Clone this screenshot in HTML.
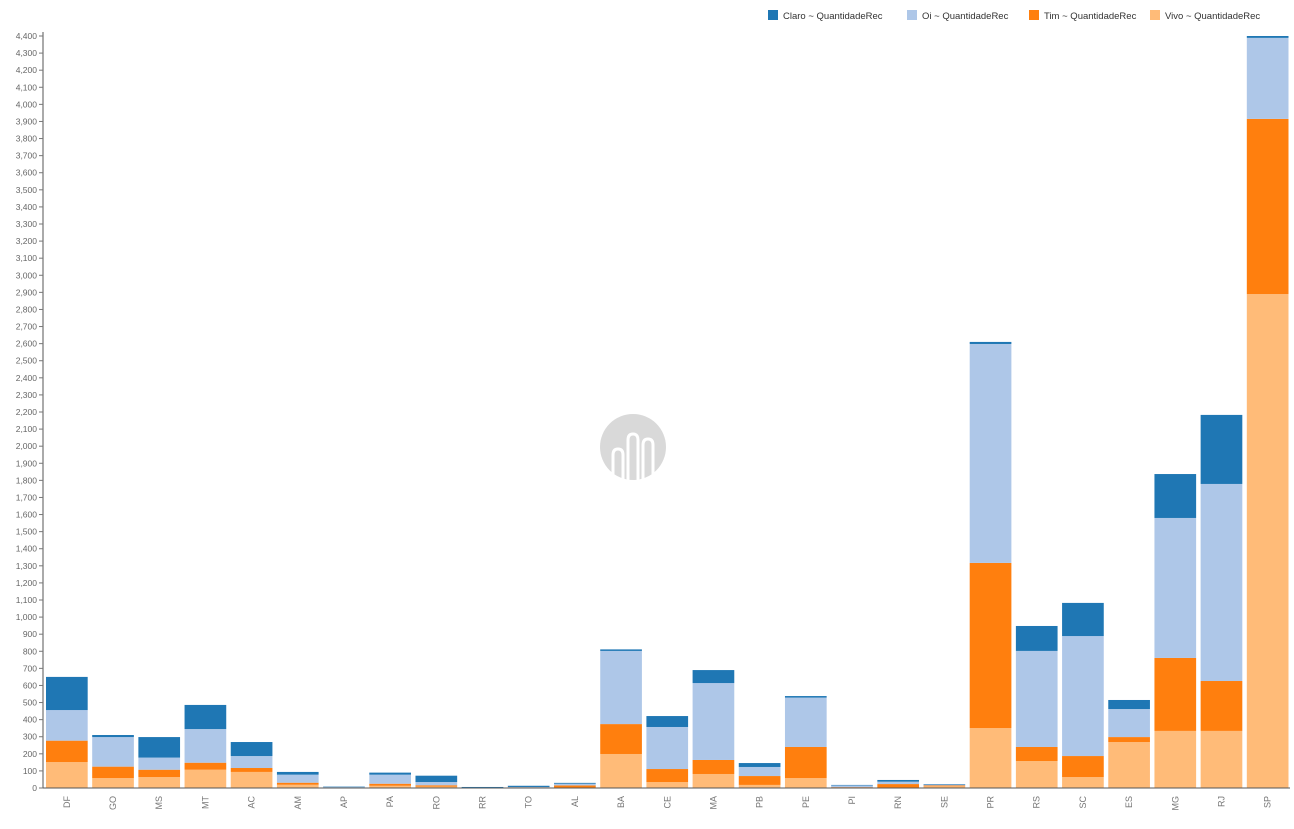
<!DOCTYPE html>
<html><head><meta charset="utf-8"><style>
body{margin:0;background:#fff;font-family:"Liberation Sans",Arial,sans-serif;}
svg text{font-family:"Liberation Sans",Arial,sans-serif;}
</style></head><body>
<svg id="chart" width="1294" height="824" xmlns="http://www.w3.org/2000/svg">
<g>
<circle cx="633" cy="447" r="33" fill="#d9d9d9"/>
<path d="M613 480 V455 q0-6 5-6 q5 0 5 6 V480 M628 480 V440 q0-6 5-6 q5 0 5 6 V480 M643 480 V445 q0-6 5-6 q5 0 5 6 V480" stroke="#fff" stroke-width="3" fill="none"/>
</g>
<g id="yaxis"></g>
<g id="bars"></g>
<g id="xaxis"></g>
<g id="legend"></g>
</svg>
<script>
const categories=["DF","GO","MS","MT","AC","AM","AP","PA","RO","RR","TO","AL","BA","CE","MA","PB","PE","PI","RN","SE","PR","RS","SC","ES","MG","RJ","SP"];
const vivo=[152,58,64,107,94,19,2,13,8,1,2,3,199,35,82,18,58,3,3,10,351,158,64,269,334,334,2890];
const tim=[125,67,43,41,23,12,1,12,8,1,2,12,175,76,82,52,182,2,20,5,966,82,123,29,427,292,1025];
const oi=[179,173,71,197,70,47,2,53,19,1,2,10,428,246,450,53,289,10,14,5,1281,562,702,164,819,1153,474];
const claro=[194,12,120,141,82,16,3,12,37,3,7,5,9,64,76,23,9,3,10,3,12,146,194,53,257,404,11];
const seriesNames=["Vivo ~ QuantidadeRec","Tim ~ QuantidadeRec","Oi ~ QuantidadeRec","Claro ~ QuantidadeRec"];
const yTicks=[];for(let v=0;v<=4400;v+=100)yTicks.push(v);

const NS="http://www.w3.org/2000/svg";
const X0=43,X1=1290,Y0=788,Y1=36,YMAX=4400;
const band=(X1-X0)/categories.length;
function y(v){return Y0-(v/YMAX)*(Y0-Y1);}
function x(i){return X0+i*band;}
function mk(t,a,p){const e=document.createElementNS(NS,t);for(const k in a)e.setAttribute(k,a[k]);p.appendChild(e);return e;}
const colors=["#ffbb78","#ff7f0e","#aec7e8","#1f77b4"];
const series=[vivo,tim,oi,claro];
const ya=document.getElementById('yaxis');
mk('line',{x1:X0,x2:X0,y1:Y1-4,y2:Y0,stroke:'#555','stroke-width':1},ya);
yTicks.forEach(v=>{
 const t=mk('line',{x1:X0-4,x2:X0,y1:y(v),y2:y(v),stroke:'#777'},ya);
 
 
 const l=mk('text',{x:X0-6,y:y(v)+3,'text-anchor':'end','font-size':8.5,fill:'#666'},ya);
 l.textContent=v.toLocaleString('en-US');
 
 
});
const bg=document.getElementById('bars');
categories.forEach((c,i)=>{
 let acc=0;
 series.forEach((s,k)=>{
  const v=s[i];
  const r=mk('rect',{x:x(i)+3,y:y(acc+v),width:band-4.5,height:y(acc)-y(acc+v),fill:colors[k]},bg);
  
  
  acc+=v;
 });
});
const xa=document.getElementById('xaxis');
mk('line',{x1:X0,x2:X1,y1:Y0,y2:Y0,stroke:'#555'},xa);
categories.forEach((c,i)=>{
 const cx=x(i)+3+(band-4.5)/2;
 const t=mk('text',{x:0,y:0,'text-anchor':'end','font-size':9,fill:'#777',transform:`translate(${cx+3},${Y0+8}) rotate(-90)`},xa);
 t.textContent=c;
 
 
});
const lg=document.getElementById('legend');
const legendOrder=[3,2,1,0];const lx=[768,907,1029,1150];
legendOrder.forEach((k,j)=>{
 const g=mk('g',{},lg);
 
 
 mk('rect',{x:lx[j],y:10,width:10,height:10,fill:colors[k]},g);
 const t=mk('text',{x:lx[j]+15,y:19,'font-size':9.5,fill:'#333'},g);
 t.textContent=seriesNames[k];
});
</script>
</body></html>
